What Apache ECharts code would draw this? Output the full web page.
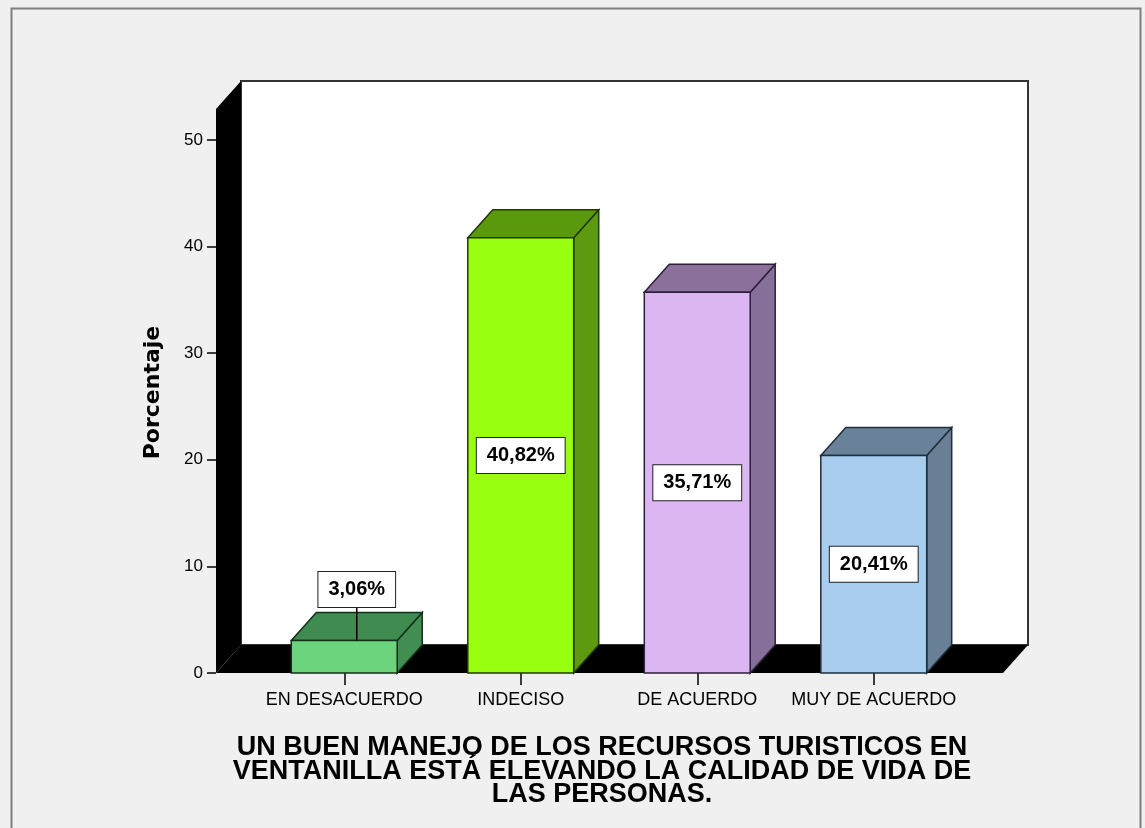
<!DOCTYPE html>
<html>
<head>
<meta charset="utf-8">
<title>Porcentaje</title>
<script src="https://cdn.jsdelivr.net/npm/echarts@6.0.0/dist/echarts.min.js"></script>
<style>
  html, body { margin: 0; padding: 0; background: #f0f0f0; }
  #chart { width: 1145px; height: 828px; }
</style>
</head>
<body>
<div id="chart"></div>
<script>
const categories = ["EN DESACUERDO", "INDECISO", "DE ACUERDO", "MUY DE ACUERDO"];
const values = [3.06, 40.82, 35.71, 20.41];
const valueLabels = ["3,06%", "40,82%", "35,71%", "20,41%"];
const yMin = 0;
const yMax = 50;
const yStep = 10;

// colours of each box: front, top, side, edge
const frontColors = ["#6cd47c", "#99ff11", "#dcb6f2", "#a8cdee"];
const topColors = ["#3f8b50", "#5b990c", "#8a709b", "#6a8299"];
const sideColors = ["#418d52", "#5d9a10", "#86709a", "#687f96"];
const edgeColors = ["#12301a", "#1f3800", "#2e2038", "#1f2e3c"];

const DX = 25;        // depth offset, px
const DY = -28;
const WALL_TOP = 52.9; // value where the back wall ends
const PAD = 40;       // floor overhang beyond the category band

const chart = echarts.init(document.getElementById("chart"));

function renderBackdrop(params, api) {
  const cs = params.coordSys;
  const baseY = api.coord([0, 0])[1];
  const topY = api.coord([0, WALL_TOP])[1];
  const fl = cs.x - PAD;
  const fr = cs.x + cs.width + PAD + 1;
  return {
    type: "group",
    children: [
      {
        type: "rect",
        shape: { x: fl + DX, y: topY + DY, width: fr - fl, height: baseY - topY },
        style: { fill: "#ffffff", stroke: "#333333", lineWidth: 2 }
      },
      {
        type: "polygon",
        shape: { points: [[fl, baseY], [fr, baseY], [fr + DX, baseY + DY], [fl + DX, baseY + DY]] },
        style: { fill: "#000000" }
      },
      {
        type: "polygon",
        shape: { points: [[fl, baseY], [fl, topY], [fl + DX, topY + DY], [fl + DX, baseY + DY]] },
        style: { fill: "#000000" }
      }
    ]
  };
}

function renderBar(params, api) {
  const i = params.dataIndex;
  const base = api.coord([api.value(0), 0]);
  const top = api.coord([api.value(0), api.value(1)]);
  const bw = api.size([1, 0])[0] * 0.6;
  const x0 = base[0] - bw / 2;
  const x1 = base[0] + bw / 2;
  const y0 = top[1];
  const y1 = base[1];
  const edge = { stroke: edgeColors[i], lineWidth: 1.5 };

  const children = [
    {
      type: "polygon",
      shape: { points: [[x1, y0], [x1 + DX, y0 + DY], [x1 + DX, y1 + DY], [x1, y1]] },
      style: Object.assign({ fill: sideColors[i] }, edge)
    },
    {
      type: "polygon",
      shape: { points: [[x0, y0], [x1, y0], [x1 + DX, y0 + DY], [x0 + DX, y0 + DY]] },
      style: Object.assign({ fill: topColors[i] }, edge)
    },
    {
      type: "rect",
      shape: { x: x0, y: y0, width: bw, height: y1 - y0 },
      style: Object.assign({ fill: frontColors[i] }, edge)
    }
  ];

  const labelStyle = {
    text: valueLabels[i],
    font: "bold 20px 'Liberation Sans', Arial, sans-serif",
    fill: "#000000",
    align: "center",
    verticalAlign: "middle",
    backgroundColor: "#ffffff",
    borderColor: "#222222",
    borderWidth: 1,
    padding: [7, 10, 6, 10],
    lineHeight: 22
  };

  if (y1 - y0 < 45) {
    const lx = base[0] + DX / 2;
    const ly = y0 - 51;
    children.push({
      type: "line",
      shape: { x1: lx, y1: ly + 17, x2: lx, y2: y0 },
      style: { stroke: "#000000", lineWidth: 1.5 }
    });
    children.push({ type: "text", style: Object.assign({ x: lx, y: ly }, labelStyle) });
  } else {
    children.push({
      type: "text",
      style: Object.assign({ x: base[0], y: (y0 + y1) / 2 }, labelStyle)
    });
  }
  return { type: "group", children: children };
}

const option = {
  backgroundColor: "#f0f0f0",
  animation: false,
  title: {
    text: "UN BUEN MANEJO DE LOS RECURSOS TURISTICOS EN\nVENTANILLA ESTÁ ELEVANDO LA CALIDAD DE VIDA DE\nLAS PERSONAS.",
    left: 597,
    top: 731,
    textAlign: "center",
    textStyle: {
      fontFamily: "'Liberation Sans', Arial, sans-serif",
      fontWeight: "bold",
      fontSize: 27,
      lineHeight: 23.5,
      color: "#000000"
    }
  },
  graphic: [
    {
      type: "rect",
      left: 9,
      top: 6,
      shape: { width: 1129, height: 840 },
      style: { fill: "none", stroke: "#7f7f7f", lineWidth: 2 },
      silent: true,
      z: -1
    }
  ],
  grid: {
    left: 256,
    right: 183,
    top: 140,
    bottom: 155
  },
  xAxis: {
    type: "category",
    data: categories,
    axisLine: { show: false },
    axisTick: { show: true, alignWithLabel: true, length: 12, lineStyle: { color: "#000000", width: 1.5 } },
    axisLabel: {
      interval: 0,
      margin: 18,
      fontFamily: "'Liberation Sans', Arial, sans-serif",
      fontSize: 18,
      color: "#000000"
    },
    splitLine: { show: false }
  },
  yAxis: {
    type: "value",
    min: yMin,
    max: yMax,
    interval: yStep,
    offset: 40,
    name: "Porcentaje",
    nameLocation: "middle",
    nameGap: 52,
    nameTextStyle: {
      fontFamily: "'DejaVu Sans', sans-serif",
      fontWeight: "bold",
      fontSize: 22,
      color: "#000000",
      padding: [0, 0, 0, 28]
    },
    axisLine: { show: false },
    axisTick: { show: true, length: 9, lineStyle: { color: "#000000", width: 1.5 } },
    axisLabel: {
      margin: 13,
      fontFamily: "'Liberation Sans', Arial, sans-serif",
      fontSize: 17,
      color: "#000000"
    },
    splitLine: { show: false }
  },
  series: [
    {
      type: "custom",
      name: "backdrop",
      renderItem: renderBackdrop,
      data: [[0, 0]],
      encode: { x: 0, y: 1 },
      silent: true,
      z: 1
    },
    {
      type: "custom",
      name: "Porcentaje",
      renderItem: renderBar,
      data: categories.map((c, i) => [i, values[i]]),
      encode: { x: 0, y: 1 },
      z: 2
    }
  ]
};

chart.setOption(option);
</script>
</body>
</html>
